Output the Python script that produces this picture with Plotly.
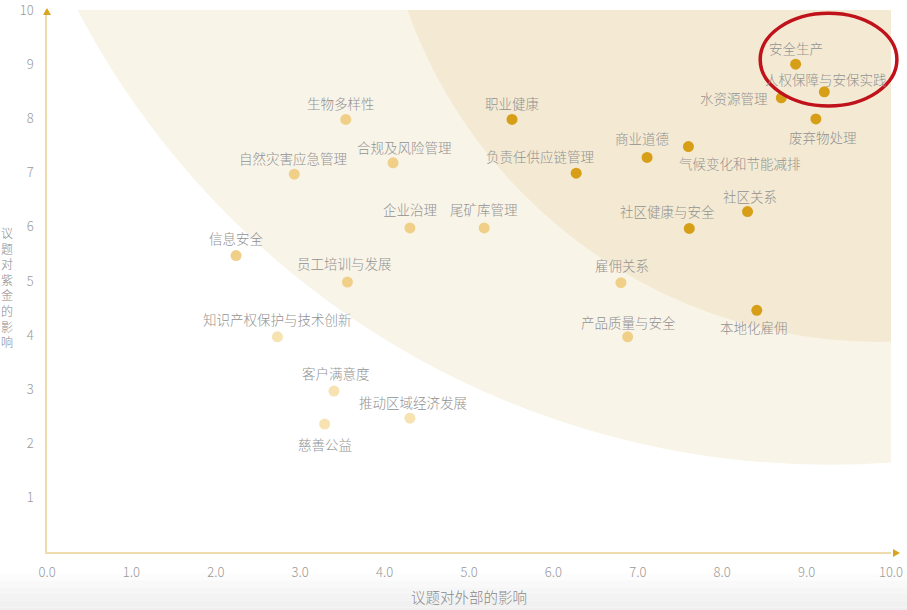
import plotly.graph_objects as go

# Issue data: (external impact, impact on Zijin)
high_names = ["安全生产", "人权保障与安保实践", "水资源管理", "废弃物处理", "职业健康",
              "商业道德", "气候变化和节能减排", "负责任供应链管理", "社区关系",
              "社区健康与安全", "本地化雇佣"]
high_x = [8.87, 9.21, 8.70, 9.11, 5.51, 7.11, 7.60, 6.27, 8.30, 7.61, 8.41]
high_y = [9.00, 8.49, 8.38, 7.99, 7.98, 7.28, 7.48, 6.99, 6.28, 5.97, 4.46]

mid_names = ["生物多样性", "合规及风险管理", "自然灾害应急管理", "企业治理", "尾矿库管理",
             "信息安全", "员工培训与发展", "雇佣关系", "产品质量与安全"]
mid_x = [3.54, 4.10, 2.93, 4.30, 5.18, 2.24, 3.56, 6.80, 6.88]
mid_y = [7.98, 7.18, 6.97, 5.98, 5.98, 5.47, 4.98, 4.97, 3.97]

low_names = ["知识产权保护与技术创新", "客户满意度", "推动区域经济发展", "慈善公益"]
low_x = [2.73, 3.40, 4.30, 3.29]
low_y = [3.97, 2.97, 2.47, 2.36]

x_ticks = [0, 1, 2, 3, 4, 5, 6, 7, 8, 9, 10]
y_ticks = [1, 2, 3, 4, 5, 6, 7, 8, 9, 10]

# label offsets in pixels (dx, dy) for each issue, same order as above
high_shift = [(0, 16), (2, 13), (-47, 0), (7, -18), (0, 16), (-5, 19), (52, -16),
              (-36, 17), (2, 16), (-22, 17), (-3, -17)]
mid_shift = [(-5, 16), (11, 16), (-1, 16), (0, 19), (0, 19), (0, 18), (-3, 19), (1, 18), (1, 15)]
low_shift = [(0, 18), (2, 18), (3, 16), (0, -20)]

dark_gold = "#d69f17"
mid_gold = "#f0d088"
light_gold = "#f7e2b2"
label_grey = "#929292"
font_name = "Noto Sans CJK SC"

fig = go.Figure()

for names, xs, ys, color in [(high_names, high_x, high_y, dark_gold),
                             (mid_names, mid_x, mid_y, mid_gold),
                             (low_names, low_x, low_y, light_gold)]:
    fig.add_trace(go.Scatter(
        x=xs, y=ys, mode="markers", text=names, hoverinfo="text",
        marker=dict(size=11, color=color),
        showlegend=False,
    ))

annotations = []
for names, xs, ys, shifts in [(high_names, high_x, high_y, high_shift),
                              (mid_names, mid_x, mid_y, mid_shift),
                              (low_names, low_x, low_y, low_shift)]:
    for name, x, y, (dx, dy) in zip(names, xs, ys, shifts):
        annotations.append(dict(
            x=x, y=y, text=name, showarrow=False, xshift=dx, yshift=dy,
            font=dict(family=font_name, size=13.5, color=label_grey, weight=300),
        ))

# vertical y-axis title with stacked characters
annotations.append(dict(
    xref="paper", yref="paper", x=-0.047, y=0.489, xanchor="center", yanchor="middle",
    text="<br>".join("议题对紫金的影响"),
    showarrow=False, font=dict(family=font_name, size=12, color="#8a8a8a", weight=300),
))

shapes = []

# soft grey strip at the bottom of the page
grey_steps = ["#fcfcfc", "#f9f9f9", "#f6f6f6", "#f3f3f3", "#f1f1f1", "#efefef"]
for i, c in enumerate(grey_steps):
    shapes.append(dict(type="rect", xref="paper", yref="paper", layer="below",
                       x0=-0.06, x1=1.03, y0=-0.04 - i * 0.0125, y1=-0.04 - (i + 1) * 0.0125,
                       fillcolor=c, line_width=0))
shapes.append(dict(type="rect", xref="paper", yref="paper", layer="below",
                   x0=-0.06, x1=1.03, y0=-0.115, y1=-0.04 - 6 * 0.0125,
                   fillcolor="#eeeeee", line_width=0))

# materiality bands (circles centred off the top-right corner)
shapes.append(dict(type="circle", xref="x", yref="y", layer="below",
                   x0=9.26 - 10.04, x1=9.26 + 10.04, y0=17.24 - 15.63, y1=17.24 + 15.63,
                   fillcolor="#f9f4e8", line_width=0))
shapes.append(dict(type="circle", xref="x", yref="y", layer="below",
                   x0=9.85 - 5.925, x1=9.85 + 5.925, y0=13.10 - 9.225, y1=13.10 + 9.225,
                   fillcolor="#f4ead3", line_width=0))

# axis arrow heads
shapes.append(dict(type="path", xref="paper", yref="paper",
                   path="M 1.0024 0.0054 L 1.0107 -0.002 L 1.0024 -0.0094 Z",
                   fillcolor="#d9a520", line_width=0))
shapes.append(dict(type="path", xref="paper", yref="paper",
                   path="M -0.0047 0.9908 L 0 1.0037 L 0.0047 0.9908 Z",
                   fillcolor="#d9a520", line_width=0))

# red highlight ring around the top issues
shapes.append(dict(type="circle", xref="paper", yref="paper",
                   x0=0.845, x1=1.007, y0=0.823, y1=0.994,
                   line=dict(color="#c0121b", width=3.5)))

fig.update_layout(
    width=907, height=610,
    margin=dict(l=47, r=16, t=10, b=58, autoexpand=False),
    paper_bgcolor="white", plot_bgcolor="white",
    font=dict(family=font_name, color="#999999"),
    xaxis=dict(
        range=[0, 10], tickvals=x_ticks, tickformat=".1f",
        showgrid=False, zeroline=False, showline=True, automargin=False,
        linecolor="#efdcad", linewidth=1.5, ticks="",
        ticklabelstandoff=8, ticklabeloverflow="allow",
        tickfont=dict(size=13, color="#9a9a9a", weight=300),
        title=dict(text="议题对外部的影响", standoff=13,
                   font=dict(size=14.5, color="#8a8a8a", weight=300)),
    ),
    yaxis=dict(
        range=[0, 10], tickvals=y_ticks,
        showgrid=False, zeroline=False, showline=True, automargin=False,
        linecolor="#efdcad", linewidth=1.5, ticks="",
        ticklabelstandoff=9, ticklabeloverflow="allow",
        tickfont=dict(size=13, color="#9a9a9a", weight=300),
    ),
    shapes=shapes,
    annotations=annotations,
)

# the page body has a default 8px margin; drop it so the figure sits at the window corner
fig.write_html("out.html", config={"displayModeBar": False},
               post_script="document.body.style.margin = '0';")
